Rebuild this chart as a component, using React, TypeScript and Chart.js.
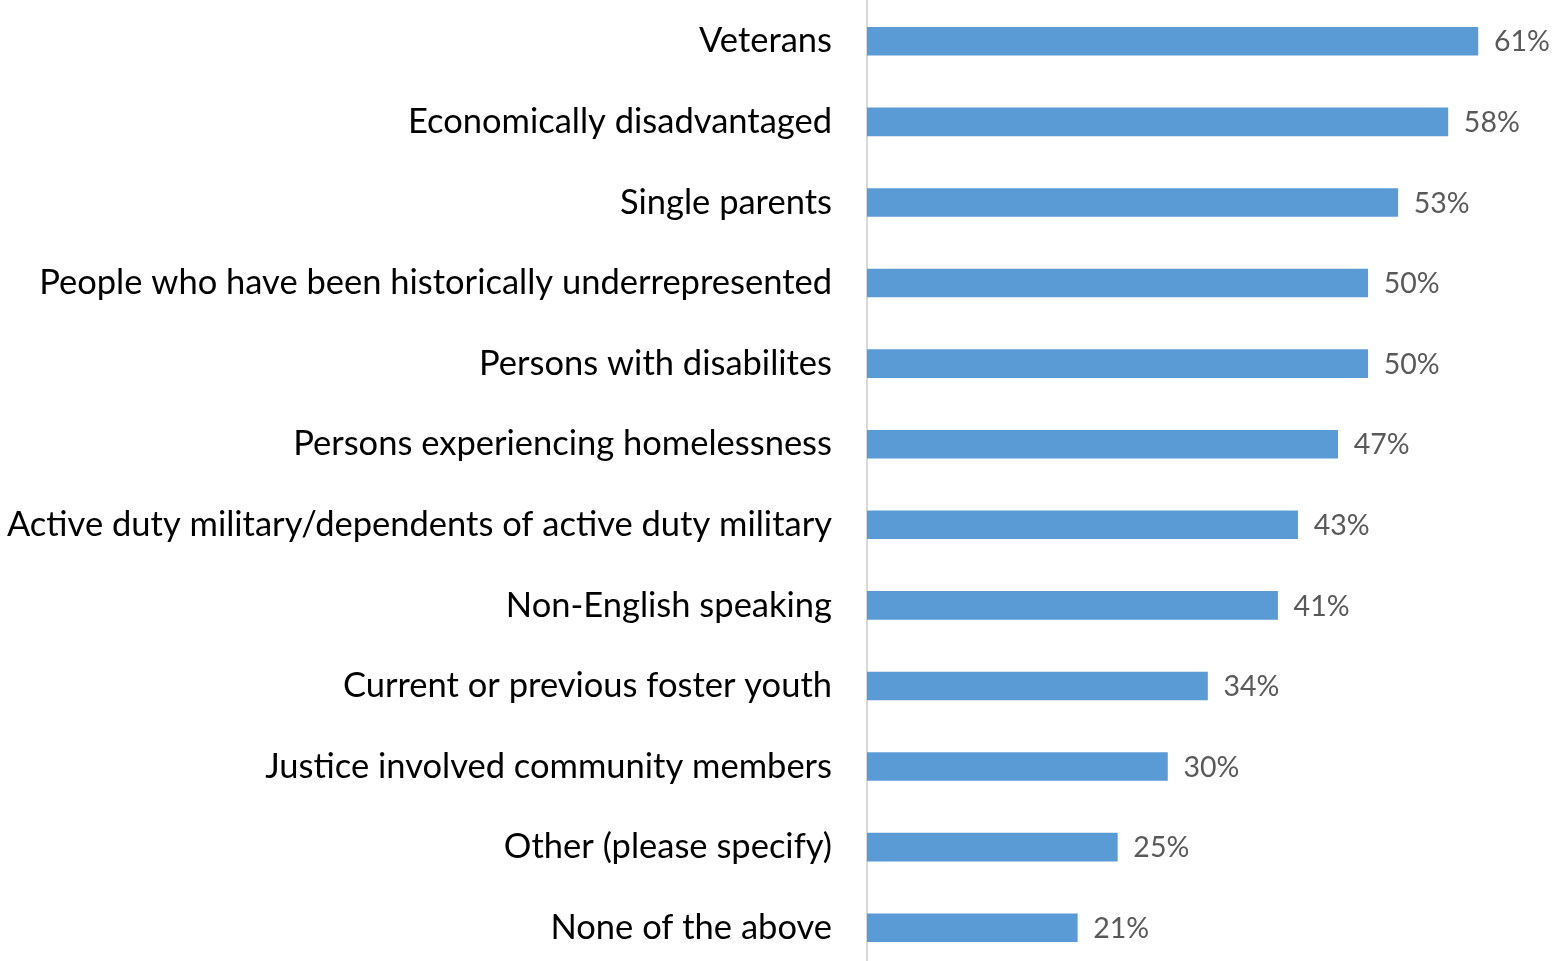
import React, { useEffect, useRef } from "react";
import { Chart, registerables } from "chart.js";

Chart.register(...registerables);

const categories = [
  "Veterans",
  "Economically disadvantaged",
  "Single parents",
  "People who have been historically underrepresented",
  "Persons with disabilites",
  "Persons experiencing homelessness",
  "Active duty military/dependents of active duty military",
  "Non-English speaking",
  "Current or previous foster youth",
  "Justice involved community members",
  "Other (please specify)",
  "None of the above",
];

const values = [61, 58, 53, 50, 50, 47, 43, 41, 34, 30, 25, 21];

const valueLabelPlugin = {
  id: "valueLabels",
  afterDatasetsDraw(chart: any) {
    const ctx = chart.ctx;
    const meta = chart.getDatasetMeta(0);
    ctx.save();
    ctx.font = "28.5px Lato";
    ctx.fillStyle = "#595959";
    ctx.textAlign = "left";
    ctx.textBaseline = "middle";
    meta.data.forEach((bar: any, i: number) => {
      ctx.fillText(values[i] + "%", bar.x + 16, bar.y + 1);
    });
    ctx.restore();
  },
};

export default function App() {
  const ref = useRef<HTMLCanvasElement>(null);
  useEffect(() => {
    document.body.style.margin = "0";
    document.body.style.overflow = "hidden";
    document.documentElement.style.overflow = "hidden";
    const chart = new Chart(ref.current!, {
      type: "bar",
      data: {
        labels: categories,
        datasets: [
          {
            data: values,
            backgroundColor: "#5B9BD5",
            barThickness: 28,
          },
        ],
      },
      options: {
        indexAxis: "y",
        animation: false,
        responsive: true,
        maintainAspectRatio: false,
        layout: { padding: { top: 1, right: 0, bottom: 0, left: 0 } },
        plugins: {
          legend: { display: false },
          tooltip: { enabled: false },
        },
        scales: {
          x: {
            display: false,
            min: 0,
            max: 68.5,
          },
          y: {
            grid: { display: false, drawTicks: false },
            border: { display: true, color: "#D9D9D9", width: 2 },
            ticks: {
              color: "#000000",
              font: { family: "Lato", size: 34.5 },
              padding: 35,
            },
            afterFit(scale: any) {
              scale.width = 867;
              scale.paddingTop = 0;
              scale.paddingBottom = 0;
            },
          },
        },
      },
      plugins: [valueLabelPlugin],
    });
    return () => chart.destroy();
  }, []);
  return (
    <div style={{ width: 1553, height: 968, position: "relative" }}>
      <canvas ref={ref} />
    </div>
  );
}
